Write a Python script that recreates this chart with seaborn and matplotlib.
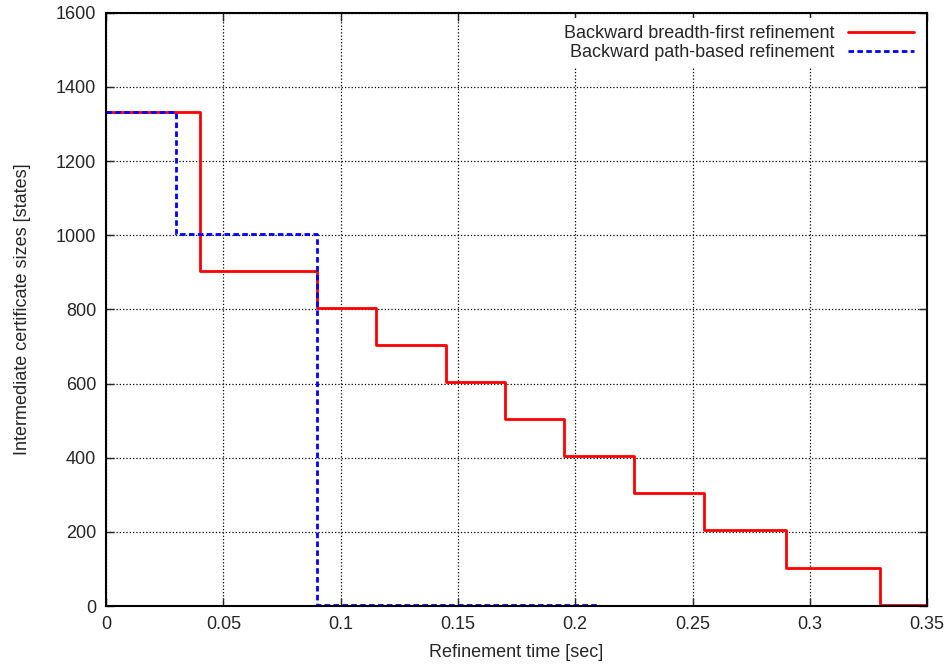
import matplotlib
matplotlib.use("Agg")
import matplotlib.pyplot as plt
import seaborn as sns

# step data
bfs_time = [0, 0.04, 0.09, 0.115, 0.145, 0.17, 0.195, 0.225, 0.255, 0.29, 0.33, 0.35]
bfs_size = [1333, 904, 804, 704, 604, 504, 404, 304, 204, 104, 4, 4]
path_time = [0, 0.03, 0.09, 0.21]
path_size = [1333, 1003, 4, 4]

sns.set_style("ticks")
plt.rcParams['font.family'] = ['Liberation Sans', 'DejaVu Sans']

fig = plt.figure(figsize=(9.47, 6.69), dpi=100)
ax = fig.add_axes([0.112, 0.094, 0.867, 0.887])

sns.lineplot(x=bfs_time, y=bfs_size, ax=ax, drawstyle='steps-post', color='#ff0000',
             lw=2, label='Backward breadth-first refinement')
sns.lineplot(x=path_time, y=path_size, ax=ax, drawstyle='steps-post', color='#0000ff',
             lw=2, linestyle=(0, (2, 1.2)), label='Backward path-based refinement')

ax.set_xlim(0, 0.35)
ax.set_ylim(0, 1600)
ax.set_xticks([0, 0.05, 0.1, 0.15, 0.2, 0.25, 0.3, 0.35])
ax.set_xticklabels(['0', '0.05', '0.1', '0.15', '0.2', '0.25', '0.3', '0.35'])
ax.set_yticks(range(0, 1601, 200))
ax.grid(True, color='black', linestyle=':', linewidth=0.9)
ax.tick_params(direction='in', length=6, width=1, top=True, right=True, labelsize=13, pad=7)
for s in ax.spines.values():
    s.set_linewidth(1.5)
    s.set_color('black')

ax.set_xlabel('Refinement time [sec]', fontsize=13, labelpad=8)
ax.set_ylabel('Intermediate certificate sizes [states]', fontsize=13, labelpad=18)

# white box behind the legend hides the grid, like gnuplot's key
leg = ax.legend(loc='upper right', markerfirst=False, frameon=True, fancybox=False,
                facecolor='white', edgecolor='none', framealpha=1, fontsize=13,
                handlelength=3.7, handletextpad=0.75, labelspacing=0.1,
                borderaxespad=0.3)

fig.savefig('out.png', dpi=100)
